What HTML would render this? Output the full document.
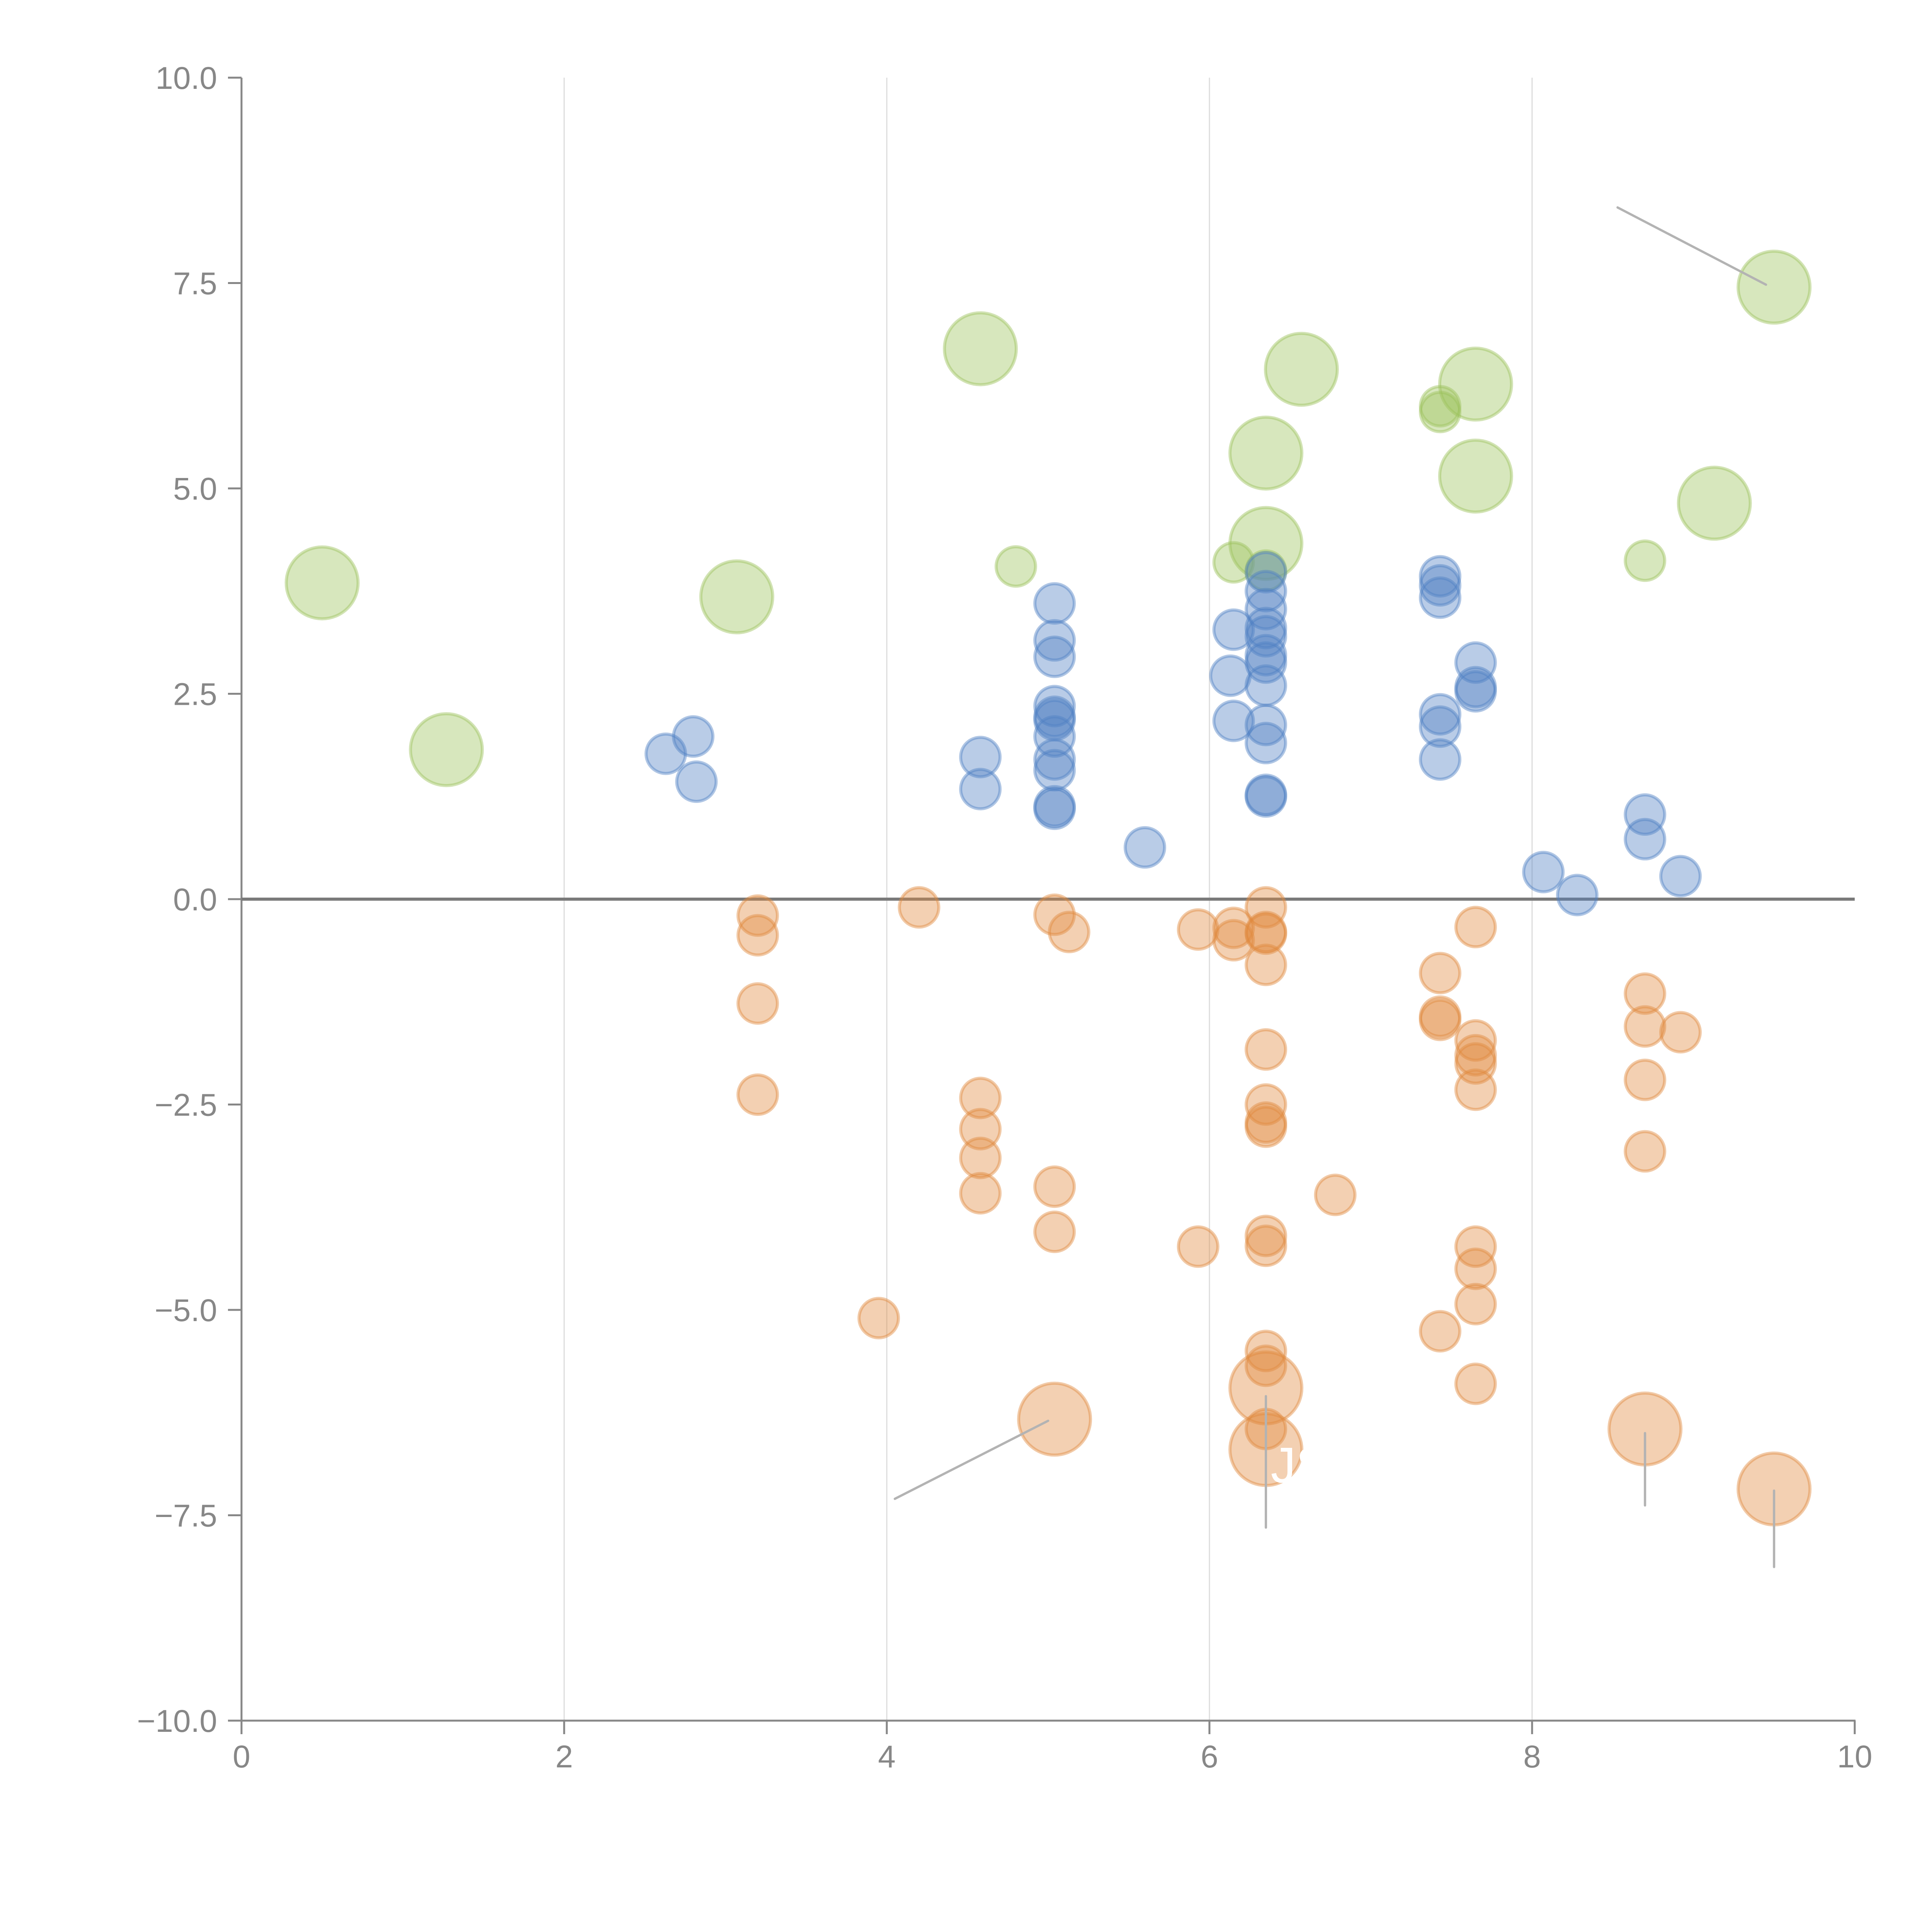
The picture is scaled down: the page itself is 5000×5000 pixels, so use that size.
<!DOCTYPE html>
<html><head><meta charset="utf-8"><style>
html,body{margin:0;padding:0;background:#fff}
svg{display:block}
text{font-family:"Liberation Sans",Arial,sans-serif;fill:#878787}
</style></head><body>
<svg id="chart" width="5000" height="5000" viewBox="0 0 5000 5000" xmlns="http://www.w3.org/2000/svg">
<g id="grid"></g>
<g id="axes"></g>
<g id="marks"></g>
<g id="leaders"></g>
</svg>
<script>
const xTicks=[0,2,4,6,8,10];
const yTicks=[-10,-7.5,-5,-2.5,0,2.5,5,7.5,10];
const yTickLabels=["\u221210.0","\u22127.5","\u22125.0","\u22122.5","0.0","2.5","5.0","7.5","10.0"];
const greenX=[0.5,1.27,3.07,4.58,6.57,7.65,6.35,7.65,6.35,9.13,9.5,4.8,6.15,7.43,7.43,8.7,6.35];
const greenY=[3.85,1.82,3.68,6.7,6.45,6.27,5.43,5.15,4.33,4.82,7.45,4.05,4.1,6.0,5.93,4.12,4.0];
const greenBig=[1,1,1,1,1,1,1,1,1,1,1,0,0,0,0,0,0];
const blueX=[2.63,2.8,2.82,4.58,4.58,5.04,5.04,5.04,5.04,5.04,5.04,5.04,5.04,5.04,5.04,5.04,5.6,6.13,6.15,6.15,6.35,6.35,6.35,6.35,6.35,6.35,6.35,6.35,6.35,6.35,6.35,6.35,7.43,7.43,7.43,7.43,7.43,7.43,7.65,7.65,7.65,8.07,8.28,8.7,8.7,8.92];
const blueY=[1.77,1.98,1.43,1.73,1.34,3.6,3.15,2.95,2.35,2.22,2.18,1.98,1.7,1.57,1.13,1.1,0.63,2.72,3.28,2.17,3.98,3.75,3.53,3.3,3.2,2.97,2.88,2.6,2.12,1.9,1.27,1.25,3.93,3.82,3.67,2.25,2.1,1.7,2.88,2.58,2.53,0.33,0.05,1.03,0.73,0.28];
const orangeX=[3.2,3.2,3.2,3.2,3.95,4.2,4.58,4.58,4.58,4.58,5.04,5.13,5.04,5.04,5.93,5.93,6.15,6.15,6.35,6.35,6.35,6.35,6.35,6.35,6.35,6.35,6.35,6.35,6.35,6.35,6.35,6.78,7.43,7.43,7.43,7.43,7.65,7.65,7.65,7.65,7.65,7.65,7.65,7.65,7.65,8.7,8.7,8.7,8.7,8.92,5.04,6.35,6.35,8.7,9.5];
const orangeY=[-0.2,-0.44,-1.27,-2.38,-5.1,-0.1,-2.42,-2.8,-3.15,-3.58,-0.19,-0.4,-3.5,-4.05,-0.37,-4.23,-0.35,-0.5,-0.1,-0.4,-0.42,-0.8,-1.83,-2.5,-2.72,-2.77,-4.1,-4.22,-5.5,-5.68,-6.45,-3.6,-0.9,-1.43,-1.47,-5.26,-0.34,-1.72,-1.9,-2.0,-2.32,-4.23,-4.5,-4.93,-5.9,-1.15,-1.55,-2.2,-3.07,-1.62,-6.33,-5.95,-6.7,-6.45,-7.18];
const orangeBig=[0,0,0,0,0,0,0,0,0,0,0,0,0,0,0,0,0,0,0,0,0,0,0,0,0,0,0,0,0,0,0,0,0,0,0,0,0,0,0,0,0,0,0,0,0,0,0,0,0,0,1,1,1,1,1];
const leaderX1=[5.0,6.35,8.7,9.5,9.45];
const leaderY1=[-6.35,-6.05,-6.5,-7.2,7.48];
const leaderX2=[4.05,6.35,8.7,9.5,8.53];
const leaderY2=[-7.3,-7.65,-7.38,-8.13,8.42];

const NS="http://www.w3.org/2000/svg";
const X0=625,XU=417.5,Y0=2327,YU=212.6;
function sx(v){return X0+v*XU;}
function sy(v){return Y0-v*YU;}
function mk(tag,attrs,parent){const e=document.createElementNS(NS,tag);for(const k in attrs)e.setAttribute(k,attrs[k]);parent.appendChild(e);return e;}
const grid=document.getElementById('grid'),axes=document.getElementById('axes'),marks=document.getElementById('marks'),leaders=document.getElementById('leaders');

xTicks.forEach(t=>{
  if(t>0&&t<10){
    const g=mk('line',{x1:sx(t),x2:sx(t),y1:sy(10),y2:sy(-10),stroke:'#dcdcdc','stroke-width':3},grid);
    
    
  }
  const tk=mk('line',{x1:sx(t),x2:sx(t),y1:sy(-10),y2:sy(-10)+35,stroke:'#878787','stroke-width':5},axes);
  
  
  const tx=mk('text',{x:sx(t),y:4574,'text-anchor':'middle','font-size':82},axes);
  tx.textContent=String(t);
  
  
});
yTicks.forEach((t,i)=>{
  const tk=mk('line',{x1:X0-35,x2:X0,y1:sy(t),y2:sy(t),stroke:'#878787','stroke-width':5},axes);
  
  
  const tx=mk('text',{x:562,y:sy(t)+29,'text-anchor':'end','font-size':82},axes);
  tx.textContent=yTickLabels[i];
  
  
});
const ya=mk('line',{x1:X0,x2:X0,y1:sy(10),y2:sy(-10),stroke:'#878787','stroke-width':5},axes);


const xa=mk('line',{x1:X0-2,x2:sx(10)+2,y1:sy(-10),y2:sy(-10),stroke:'#878787','stroke-width':5},axes);


const zl=mk('line',{x1:X0,x2:sx(10),y1:sy(0),y2:sy(0),stroke:'#7a7a7a','stroke-width':8},axes);



function drawSeries(xs,ys,big,color,name){
  xs.forEach((x,i)=>{
    const r=(big&&big[i])?93:51;
    const c=mk('circle',{cx:sx(x),cy:sy(ys[i]),r:r,fill:color,'fill-opacity':0.4,stroke:color,'stroke-opacity':0.45,'stroke-width':8},marks);
    
    
  });
}
drawSeries(greenX,greenY,greenBig,'#9cc25a','green-bubble');
drawSeries(blueX,blueY,null,'#4f80c4','blue-bubble');
drawSeries(orangeX,orangeY,orangeBig,'#e08a3e','orange-bubble');

leaderX1.forEach((x,i)=>{
  const l=mk('line',{x1:sx(x),y1:sy(leaderY1[i]),x2:sx(leaderX2[i]),y2:sy(leaderY2[i]),stroke:'#b3b3b3','stroke-width':6,'stroke-linecap':'round'},leaders);
  
  
});
const js=mk('text',{x:sx(6.38),y:sy(-7.1),'font-size':130,style:'fill:#fff'},leaders);
js.textContent='JS';


</script>
</body></html>
